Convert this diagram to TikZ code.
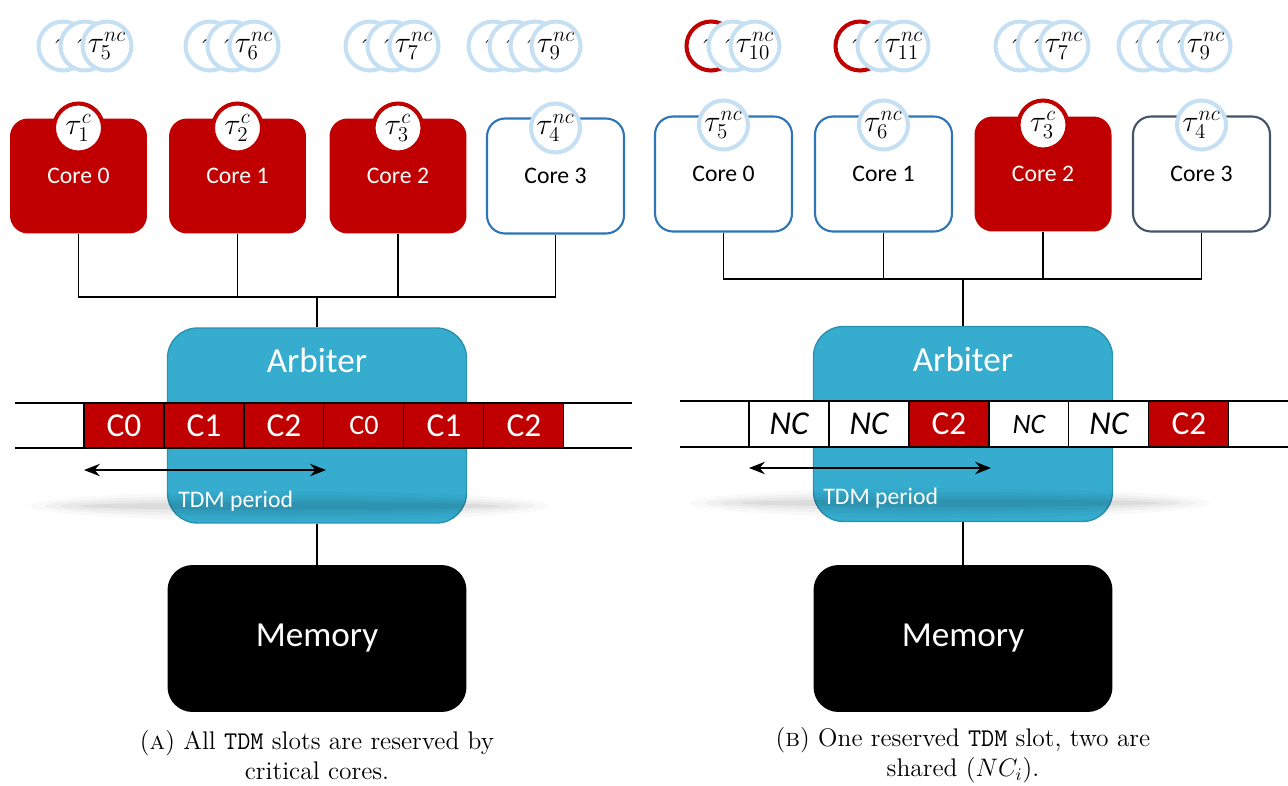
\documentclass[tikz,border=0pt]{standalone}
\usepackage{fontspec}
\newfontfamily\calibri{Carlito}
\usetikzlibrary{positioning,arrows.meta}

\definecolor{critred}{RGB}{192,0,0}
\definecolor{ringblue}{RGB}{197,223,243}
\definecolor{coreblue}{RGB}{46,117,182}
\definecolor{coreslate}{RGB}{68,84,106}
\definecolor{arbfill}{RGB}{54,173,207}
\definecolor{arbline}{RGB}{42,145,175}

\tikzset{
  corebox/.style={rectangle, rounded corners=0.36cm, minimum width=2.74cm, minimum height=2.3cm, inner sep=0pt, font=\calibri\fontsize{13.5}{15}\selectfont},
  critcore/.style={corebox, fill=critred, text=white},
  nccore/.style={corebox, draw=coreblue, line width=1.2pt, fill=white},
  tsk/.style={circle, draw=ringblue, line width=2.3pt, fill=white, minimum size=0.98cm, inner sep=0pt, font=\fontsize{17.5}{17.5}\selectfont},
  tskc/.style={tsk, draw=critred},
  arbbox/.style={rectangle, rounded corners=0.6cm, fill=arbfill, draw=arbline, line width=0.8pt, minimum width=5.98cm, minimum height=3.9cm},
  membox/.style={rectangle, rounded corners=0.5cm, fill=black, minimum width=5.98cm, minimum height=2.94cm, text=white, font=\calibri\fontsize{20}{22}\selectfont},
  bigtext/.style={text=white, font=\calibri\fontsize{20}{22}\selectfont},
  slot/.style={rectangle, draw=black, line width=0.6pt, minimum width=1.6cm, minimum height=0.9cm, inner sep=0pt, outer sep=0pt, font=\calibri\fontsize{19}{21}\selectfont},
  cslot/.style={slot, fill=critred, text=white},
  ncslot/.style={slot, fill=white, font=\calibri\itshape\fontsize{19}{21}\selectfont},
  wire/.style={line width=1.1pt},
  period/.style={line width=1.3pt, {Stealth[length=9pt,width=7pt]}-{Stealth[length=9pt,width=7pt]}},
  tdmtext/.style={text=white, anchor=west, inner sep=0pt, font=\calibri\fontsize{13.5}{15}\selectfont},
  caption/.style={align=center, font=\fontsize{14.5}{17}\selectfont}
}

\begin{document}
\begin{tikzpicture}[x=0.02cm, y=-0.02cm]
\useasboundingbox (0,0) rectangle (1288,785);

% (a) all slots reserved
\node[critcore] (l0) at (78.5,176) {Core 0};
\node[critcore] (l1) at (237.5,176) {Core 1};
\node[critcore] (l2) at (398,176) {Core 2};
\node[nccore] (l3) at (555.5,176) {Core 3};
\node[tskc] (lt1) at (78.5,128) {$\tau^{c}_{1}$};
\node[tskc] (lt2) at (237.5,128) {$\tau^{c}_{2}$};
\node[tskc] (lt3) at (398,128) {$\tau^{c}_{3}$};
\node[tsk] (lt4) at (555.5,128) {$\tau^{nc}_{4}$};

% waiting tasks
\node[tsk] (lq5a) at (63,46) {$\tau$};
\node[tsk] (lq5b) at (85,46) {$\tau$};
\node[tsk] (lq5) at (107,46) {$\tau^{nc}_{5}$};
\node[tsk] (lq6a) at (210,46) {$\tau$};
\node[tsk] (lq6b) at (232,46) {$\tau$};
\node[tsk] (lq6) at (254,46) {$\tau^{nc}_{6}$};
\node[tsk] (lq7a) at (370,46) {$\tau$};
\node[tsk] (lq7b) at (392,46) {$\tau$};
\node[tsk] (lq7) at (414,46) {$\tau^{nc}_{7}$};
\node[tsk] (lq9a) at (493,46) {$\tau$};
\node[tsk] (lq9b) at (514,46) {$\tau$};
\node[tsk] (lq9c) at (535,46) {$\tau$};
\node[tsk] (lq9) at (556,46) {$\tau^{nc}_{9}$};

\node[arbbox] (larb) at (317,425.5) {};
\fill[black, opacity=0.025] (290,506) ellipse (5.2cm and 0.3cm);
\fill[black, opacity=0.03] (290,506) ellipse (4.9cm and 0.22cm);
\fill[black, opacity=0.04] (290,506) ellipse (4.6cm and 0.15cm);
\fill[black, opacity=0.05] (290,506) ellipse (4.2cm and 0.08cm);

\coordinate (lbus) at (317,297);
\draw[wire] (l0.south) |- (lbus) -| (l3.south);
\draw[wire] (l1.south) |- (lbus);
\draw[wire] (l2.south) |- (lbus);
\draw[wire] (lbus) -- (larb.north);

\draw[line width=1pt] (15,403) -- (632,403);
\draw[line width=1pt] (15,448) -- (632,448);
\node[cslot] (ls1) at (124,425.5) {C0};
\node[cslot, right=0pt of ls1] (ls2) {C1};
\node[cslot, right=0pt of ls2] (ls3) {C2};
\node[cslot, right=0pt of ls3, font=\calibri\fontsize{16}{18}\selectfont] (ls4) {C0};
\node[cslot, right=0pt of ls4] (ls5) {C1};
\node[cslot, right=0pt of ls5] (ls6) {C2};

\coordinate (lpa) at (84,470);
\coordinate (lpb) at (326,470);
\draw[period] (lpa) -- (lpb);
\node[tdmtext] (ltdm) at (178,501) {TDM period};
\node[bigtext] (larbt) at (317,360) {Arbiter};

\node[membox] (lmem) at (317,638.5) {Memory};
\draw[wire] (larb.south) -- (lmem.north);

\node[caption] (capa) at (317,755) {(\textsc{a})~All \texttt{TDM} slots are reserved by\\critical cores.};

% (b) one reserved slot
\node[nccore] (r0) at (723.5,174) {Core 0};
\node[nccore] (r1) at (883.5,174) {Core 1};
\node[critcore] (r2) at (1043,174) {Core 2};
\node[nccore, draw=coreslate] (r3) at (1201.5,174) {Core 3};
\node[tsk] (rt5) at (723.5,125) {$\tau^{nc}_{5}$};
\node[tsk] (rt6) at (883.5,125) {$\tau^{nc}_{6}$};
\node[tskc] (rt3) at (1043,125) {$\tau^{c}_{3}$};
\node[tsk] (rt4) at (1201.5,125) {$\tau^{nc}_{4}$};

\node[tskc] (rq10a) at (711,46) {$\tau$};
\node[tsk] (rq10b) at (733,46) {$\tau$};
\node[tsk] (rq10) at (755,46) {$\tau^{nc}_{10}$};
\node[tskc] (rq11a) at (860,46) {$\tau$};
\node[tsk] (rq11b) at (882,46) {$\tau$};
\node[tsk] (rq11) at (904,46) {$\tau^{nc}_{11}$};
\node[tsk] (rq7a) at (1020,46) {$\tau$};
\node[tsk] (rq7b) at (1042,46) {$\tau$};
\node[tsk] (rq7) at (1064,46) {$\tau^{nc}_{7}$};
\node[tsk] (rq9a) at (1143,46) {$\tau$};
\node[tsk] (rq9b) at (1164,46) {$\tau$};
\node[tsk] (rq9c) at (1185,46) {$\tau$};
\node[tsk] (rq9) at (1206,46) {$\tau^{nc}_{9}$};

\node[arbbox] (rarb) at (963,424) {};
\fill[black, opacity=0.025] (950,503) ellipse (5.2cm and 0.3cm);
\fill[black, opacity=0.03] (950,503) ellipse (4.9cm and 0.22cm);
\fill[black, opacity=0.04] (950,503) ellipse (4.6cm and 0.15cm);
\fill[black, opacity=0.05] (950,503) ellipse (4.2cm and 0.08cm);

\coordinate (rbus) at (963,279);
\draw[wire] (r0.south) |- (rbus) -| (r3.south);
\draw[wire] (r1.south) |- (rbus);
\draw[wire] (r2.south) |- (rbus);
\draw[wire] (rbus) -- (rarb.north);

\draw[line width=1pt] (680,401) -- (1288,401);
\draw[line width=1pt] (680,447) -- (1288,447);
\node[ncslot] (rs1) at (789,424) {NC};
\node[ncslot, right=0pt of rs1] (rs2) {NC};
\node[cslot, right=0pt of rs2] (rs3) {C2};
\node[ncslot, right=0pt of rs3, font=\calibri\itshape\fontsize{16}{18}\selectfont] (rs4) {NC};
\node[ncslot, right=0pt of rs4] (rs5) {NC};
\node[cslot, right=0pt of rs5] (rs6) {C2};

\coordinate (rpa) at (749,468);
\coordinate (rpb) at (991,468);
\draw[period] (rpa) -- (rpb);
\node[tdmtext] (rtdm) at (823,498) {TDM period};
\node[bigtext] (rarbt) at (963,359) {Arbiter};

\node[membox] (rmem) at (963,638.5) {Memory};
\draw[wire] (rarb.south) -- (rmem.north);

\node[caption] (capb) at (963,755) {(\textsc{b})~One reserved \texttt{TDM} slot, two are\\shared ($NC_i$).};
\end{tikzpicture}
\end{document}
